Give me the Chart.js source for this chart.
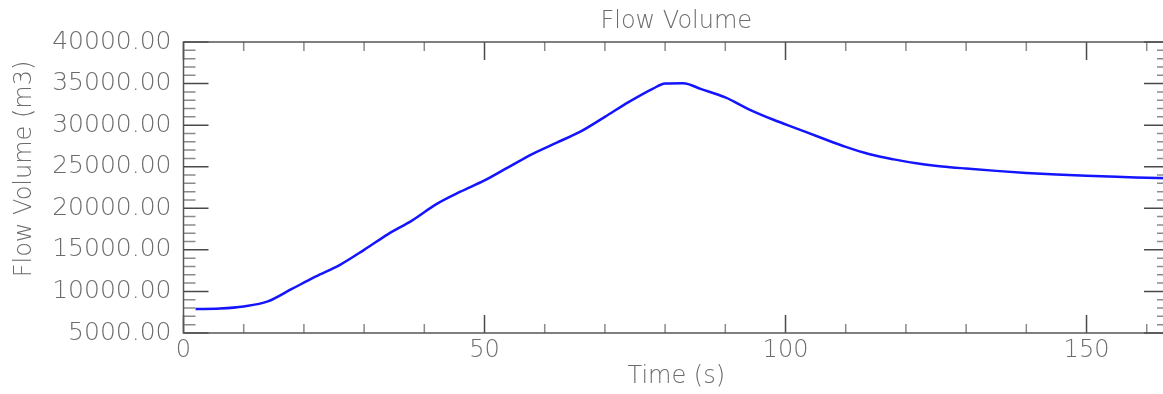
<!DOCTYPE html>
<html>
<head>
<meta charset="utf-8">
<script src="https://cdn.jsdelivr.net/npm/chart.js@4.4.1/dist/chart.umd.min.js"></script>
<style>
    html, body { margin: 0; padding: 0; overflow: hidden; background: #fff; }
    #wrap { width: 1172px; height: 394px; }
</style>
</head>
<body>
<div id="wrap"><canvas id="flow"></canvas></div>
<script>
const timeSec = [2, 6, 10, 14, 18, 22, 26, 30, 34, 38, 42, 46, 50, 54, 58, 62, 66, 70, 74, 78,
    80, 83, 86, 90, 94, 98, 102, 106, 110, 114, 118, 122, 126, 130, 135, 140, 145, 150, 155, 160, 164];
const flowVolume = [7880, 7950, 8200, 8800, 10300, 11800, 13200, 15000, 16900, 18550, 20500, 22000,
    23350, 24950, 26550, 27900, 29250, 31000, 32800, 34400, 35000, 35050, 34330, 33330, 31880,
    30650, 29550, 28450, 27380, 26500, 25880, 25380, 25030, 24780, 24500, 24250, 24050, 23900,
    23780, 23680, 23600];
const xMajor = [0, 50, 100, 150];
const yMajor = [5000, 10000, 15000, 20000, 25000, 30000, 35000, 40000];

const labelFont = { family: "DejaVu Sans", size: 24, weight: 200 };
const grey = "#6c6c6c";

// IDL style box with inward ticks on all four sides, plus the y title
const boxTicks = {
    id: "boxTicks",
    afterDraw(chart) {
        const { ctx, chartArea: { left, right, top, bottom } } = chart;
        const xs = chart.scales.x;
        const ys = chart.scales.y;
        ctx.save();
        ctx.lineWidth = 1.5;

        for (let v = 0; v <= xs.max; v += 10) {
            const px = xs.getPixelForValue(v);
            const major = v % 50 === 0;
            ctx.strokeStyle = major ? "#4a4a4a" : "#8a8a8a";
            const len = major ? 18 : 9;
            ctx.beginPath();
            ctx.moveTo(px, bottom);
            ctx.lineTo(px, bottom - len);
            ctx.moveTo(px, top);
            ctx.lineTo(px, top + len);
            ctx.stroke();
        }
        for (let v = ys.min; v <= ys.max; v += 1000) {
            const py = ys.getPixelForValue(v);
            const major = v % 5000 === 0;
            ctx.strokeStyle = major ? "#4a4a4a" : "#8a8a8a";
            const len = major ? 25 : 12;
            ctx.beginPath();
            ctx.moveTo(left, py);
            ctx.lineTo(left + len, py);
            ctx.moveTo(right, py);
            ctx.lineTo(right - len, py);
            ctx.stroke();
        }

        ctx.strokeStyle = "#555";
        ctx.strokeRect(left, top, right - left, bottom - top);

        // y title sits a bit above the middle of the axis
        ctx.translate(31, 169);
        ctx.rotate(-Math.PI / 2);
        ctx.font = "200 24px 'DejaVu Sans'";
        ctx.fillStyle = grey;
        ctx.textAlign = "center";
        ctx.textBaseline = "alphabetic";
        ctx.fillText("Flow Volume (m3)", 0, 0);
        ctx.restore();
    },
};

new Chart(document.getElementById("flow"), {
    type: "line",
    data: {
        datasets: [{
            data: timeSec.map((t, i) => ({ x: t, y: flowVolume[i] })),
            borderColor: "#1414ff",
            borderWidth: 2.5,
            pointRadius: 0,
            cubicInterpolationMode: "monotone",
        }],
    },
    options: {
        responsive: true,
        maintainAspectRatio: false,
        animation: false,
        layout: { padding: { right: 3 } },
        plugins: {
            legend: { display: false },
            tooltip: { enabled: false },
        },
        scales: {
            x: {
                type: "linear",
                position: "bottom",
                min: 0,
                max: 163.7,
                afterBuildTicks: (s) => { s.ticks = xMajor.map((v) => ({ value: v })); },
                afterFit: (s) => { s.height = 61; },
                grid: { display: false, drawTicks: false },
                border: { display: false },
                ticks: {
                    font: labelFont,
                    color: grey,
                    padding: 3,
                    maxRotation: 0,
                    callback: (v) => String(v),
                },
                title: {
                    display: true,
                    text: "Time (s)",
                    font: labelFont,
                    color: grey,
                    padding: { top: 0, bottom: 3 },
                },
            },
            x2: {
                type: "linear",
                position: "top",
                min: 0,
                max: 163.7,
                afterFit: (s) => { s.height = 42; },
                grid: { display: false, drawTicks: false },
                border: { display: false },
                ticks: { display: false },
                title: {
                    display: true,
                    text: "Flow Volume",
                    font: labelFont,
                    color: grey,
                    padding: { top: 7, bottom: 0 },
                },
            },
            y: {
                type: "linear",
                min: 5000,
                max: 40000,
                afterBuildTicks: (s) => { s.ticks = yMajor.map((v) => ({ value: v })); },
                afterFit: (s) => { s.width = 183.5; },
                grid: { display: false, drawTicks: false },
                border: { display: false },
                ticks: {
                    font: { family: "DejaVu Sans", size: 25, weight: 200 },
                    color: grey,
                    padding: 12,
                    callback: (v) => v.toFixed(2),
                },
            },
        },
    },
    plugins: [boxTicks],
});
</script>
</body>
</html>
